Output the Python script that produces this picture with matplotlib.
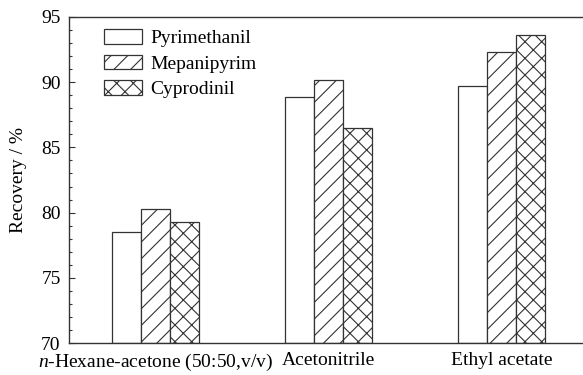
import matplotlib
matplotlib.use("Agg")
import matplotlib.pyplot as plt
import numpy as np
from matplotlib.ticker import MultipleLocator

plt.rcParams['font.family'] = ['Liberation Serif', 'DejaVu Serif']
plt.rcParams['mathtext.fontset'] = 'custom'
plt.rcParams['mathtext.it'] = 'Liberation Serif:italic'
plt.rcParams['mathtext.rm'] = 'Liberation Serif'
plt.rcParams['hatch.linewidth'] = 0.8
plt.rcParams['hatch.color'] = '#333333'

categories = ["$n$-Hexane-acetone (50:50,v/v)", "Acetonitrile", "Ethyl acetate"]
series_names = ["Pyrimethanil", "Mepanipyrim", "Cyprodinil"]
pyrimethanil = [78.5, 88.9, 89.7]
mepanipyrim = [80.25, 90.15, 92.35]
cyprodinil = [79.3, 86.5, 93.6]
values = [pyrimethanil, mepanipyrim, cyprodinil]
hatches = ['', '//', 'xx']

FS = 14

fig = plt.figure(figsize=(5.83, 3.75), dpi=100)
ax = fig.add_axes([69/583, 32/375, 519/583, 326/375])

x = np.arange(len(categories))
w = 0.168
for i, (name, vals, h) in enumerate(zip(series_names, values, hatches)):
    ax.bar(x + (i - 1) * w, np.array(vals) - 70, width=w, bottom=70,
           facecolor='white', edgecolor='#333333', linewidth=0.9,
           hatch=h, label=name)

ax.set_xlim(-0.5, 2.5)
ax.set_ylim(70, 95)
ax.yaxis.set_major_locator(MultipleLocator(5))
ax.yaxis.set_minor_locator(MultipleLocator(1))
ax.set_xticks(x)
ax.set_xticklabels(categories, fontsize=FS)
ax.tick_params(axis='x', length=0, pad=6.5)
ax.tick_params(axis='y', which='major', direction='in', length=4, width=0.8,
               labelsize=FS, pad=6, colors='#333333', labelcolor='black')
ax.tick_params(axis='y', which='minor', direction='in', length=2.5, width=0.8,
               colors='#333333')
ax.set_ylabel("Recovery / %", fontsize=FS, labelpad=10.5)
for s in ax.spines.values():
    s.set_color('#333333')
    s.set_linewidth(1.0)
ax.spines['right'].set_visible(False)

leg = ax.legend(loc='upper left', bbox_to_anchor=(0.052, 0.987), frameon=False,
                fontsize=FS, handlelength=1.95, handleheight=0.8,
                labelspacing=0.38, handletextpad=0.45, borderaxespad=0)

fig.savefig("out.png", dpi=100)
